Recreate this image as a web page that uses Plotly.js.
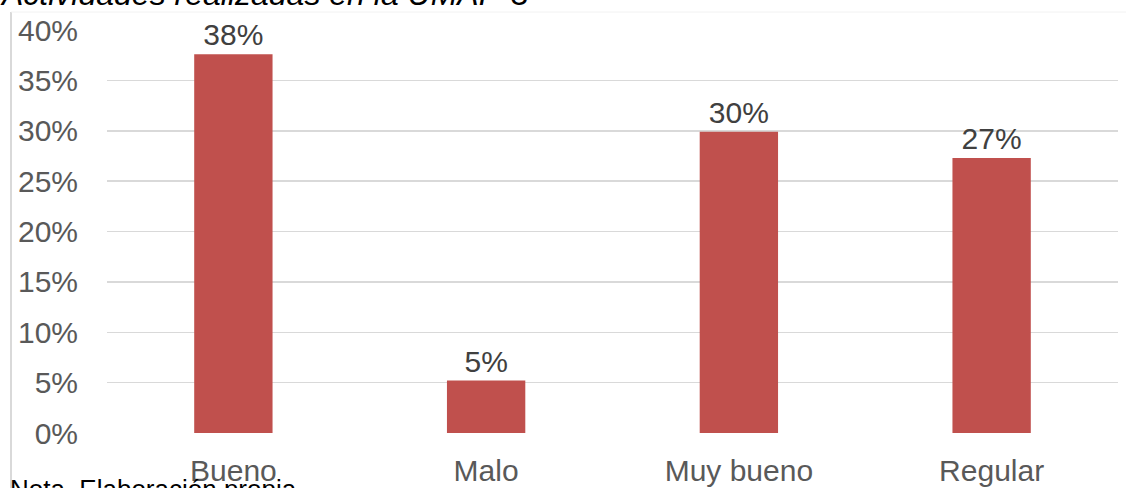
<!DOCTYPE html>
<html>
<head>
<meta charset="utf-8">
<script src="https://cdn.plot.ly/plotly-3.0.1.min.js"></script>
<style>html,body{margin:0;padding:0;background:#fff;}#chart{width:1126px;height:488px;}</style>
</head>
<body>
<div id="chart"></div>
<script>
const categories = ["Bueno", "Malo", "Muy bueno", "Regular"];
const values = [37.6, 5.2, 29.9, 27.3];
const valueLabels = ["38%", "5%", "30%", "27%"];
const yTickVals = [0, 5, 10, 15, 20, 25, 30, 35, 40];
const yTickText = ["0%", "5%", "10%", "15%", "20%", "25%", "30%", "35%", "40%"];
const titleText = "Actividades realizadas en la UMAP-3";
const noteText = "Nota. Elaboración propia";

const FONT = "Liberation Sans, Arial, sans-serif";
const W = 1126, H = 488;
const L = 107, R = 8, T = 30, B = 55;
const pw = W - L - R, ph = H - T - B;
const px = x => (x - L) / pw;
const py = y => (H - B - y) / ph;

const trace = {
  type: "bar",
  x: categories,
  y: values,
  text: valueLabels,
  textposition: "outside",
  textfont: {family: FONT, size: 30, color: "#404040"},
  marker: {color: "#c0504d"},
  width: 0.31,
  cliponaxis: false,
  hoverinfo: "none"
};

const layout = {
  width: W, height: H,
  margin: {l: L, r: R, t: T, b: B, pad: 0},
  paper_bgcolor: "#ffffff",
  plot_bgcolor: "#ffffff",
  showlegend: false,
  font: {family: FONT, color: "#595959"},
  xaxis: {
    type: "category",
    showgrid: false,
    zeroline: false,
    showline: false,
    ticks: "",
    tickfont: {family: FONT, size: 30, color: "#595959"},
    ticklabelstandoff: 17
  },
  yaxis: {
    range: [0, 40],
    tickvals: yTickVals,
    ticktext: yTickText,
    showgrid: true,
    gridcolor: "#d9d9d9",
    gridwidth: 1.5,
    zeroline: false,
    showline: false,
    ticks: "",
    tickfont: {family: FONT, size: 30, color: "#595959"},
    ticklabelstandoff: 28
  },
  shapes: [
    {type: "line", xref: "paper", yref: "paper", x0: px(11), x1: px(11), y0: py(488), y1: py(12),
     line: {color: "#d9d9d9", width: 2}},
    {type: "line", xref: "paper", yref: "paper", x0: px(11), x1: px(1126), y0: py(12), y1: py(12),
     line: {color: "#f2f2f2", width: 1}}
  ],
  annotations: [
    {xref: "paper", yref: "paper", x: px(-2), y: py(14), xanchor: "left", yanchor: "bottom",
     text: "<i>" + titleText + "</i>", showarrow: false,
     font: {family: FONT, size: 32, color: "#000000"}},
    {xref: "paper", yref: "paper", x: px(8), y: py(472), xanchor: "left", yanchor: "top",
     text: noteText, showarrow: false,
     font: {family: FONT, size: 26, color: "#000000"}}
  ]
};

Plotly.newPlot("chart", [trace], layout, {displayModeBar: false, staticPlot: true});
</script>
</body>
</html>
